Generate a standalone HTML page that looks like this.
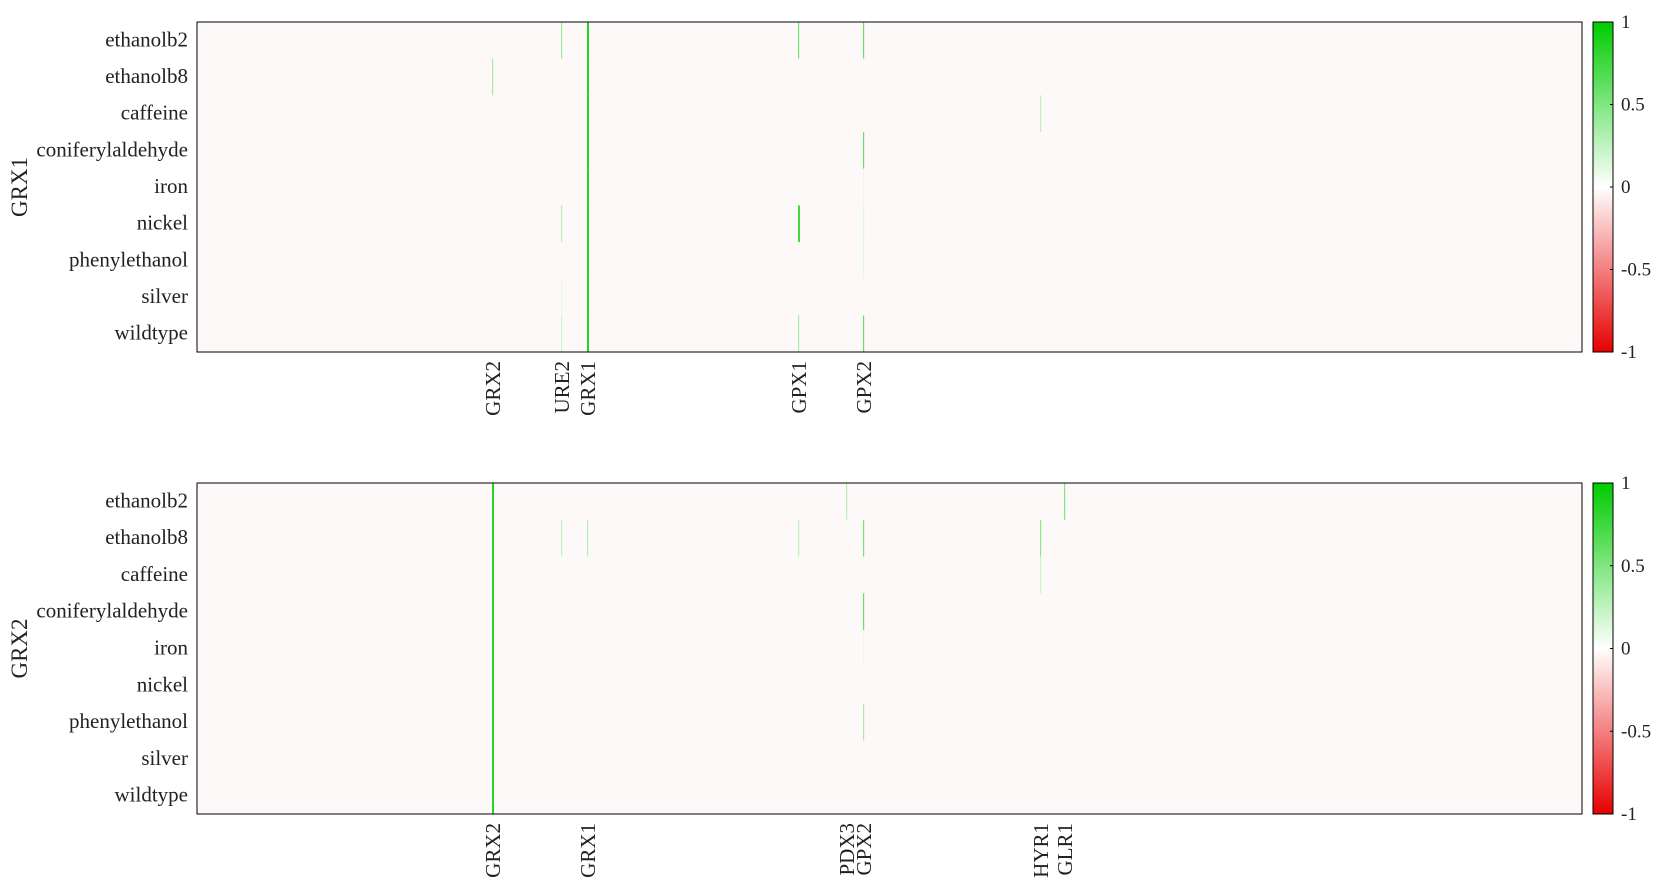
<!DOCTYPE html>
<html><head><meta charset="utf-8"><style>
html,body{margin:0;padding:0;background:#fff;}
svg{display:block;}
text{font-family:"Liberation Serif","Times New Roman",serif;}
</style></head><body>
<svg id="chart" width="1662" height="886" xmlns="http://www.w3.org/2000/svg"></svg>
<script>
const conditions = ["ethanolb2","ethanolb8","caffeine","coniferylaldehyde","iron","nickel","phenylethanol","silver","wildtype"];
const geneCount = 1385;
const panelTitles = ["GRX1","GRX2"];
// panel 1 highlighted cells: [geneIndex, conditionIndex, value]
const p1Cells = [
 [390,0,0.85],[390,1,0.85],[390,2,0.85],[390,3,0.85],[390,4,0.85],[390,5,0.85],[390,6,0.85],[390,7,0.85],[390,8,0.85],
 [364,0,0.4],[364,5,0.3],[364,7,0.1],[364,8,0.2],
 [295,1,0.35],
 [601,0,0.55],[601,5,0.75],[601,8,0.35],
 [666,0,0.6],[666,3,0.6],[666,4,0.08],[666,5,0.15],[666,6,0.12],[666,8,0.6],
 [843,2,0.25]
];
const p1Labels = [[295,"GRX2"],[364,"URE2"],[390,"GRX1"],[601,"GPX1"],[666,"GPX2"]];
const p2Cells = [
 [295,0,0.85],[295,1,0.85],[295,2,0.85],[295,3,0.85],[295,4,0.85],[295,5,0.85],[295,6,0.85],[295,7,0.85],[295,8,0.85],
 [649,0,0.3],[867,0,0.5],
 [364,1,0.25],[390,1,0.3],[601,1,0.25],[666,1,0.55],[843,1,0.45],[843,2,0.2],
 [666,3,0.6],[666,4,0.08],[666,6,0.35]
];
const p2Labels = [[295,"GRX2"],[390,"GRX1"],[649,"PDX3"],[666,"GPX2"],[843,"HYR1"],[867,"GLR1"]];
const cbTicks = [1,0.5,0,-0.5,-1];

const NS="http://www.w3.org/2000/svg";
const svg=document.getElementById('chart');
function mk(tag,attrs,parent){const e=document.createElementNS(NS,tag);for(const k in attrs)e.setAttribute(k,attrs[k]);(parent||svg).appendChild(e);return e;}
function color(v){
  v=Math.max(-1,Math.min(1,v));
  let r,g,b;
  if(v>=0){r=255*(1-v);g=255-(255-204)*v;b=255*(1-v);}
  else{const t=-v;r=255-(255-230)*t;g=255*(1-t);b=255*(1-t);}
  return `rgb(${Math.round(r)},${Math.round(g)},${Math.round(b)})`;
}
const X0=197,X1=1582;
const xs=i=>X0+i*(X1-X0)/geneCount;
const cw=(X1-X0)/geneCount;
const FF='"Liberation Serif", serif';

function panel(k,top,bottom,cells,labels){
  const ys=r=>top+r*(bottom-top)/conditions.length;
  const rh=(bottom-top)/conditions.length;
  const g=mk('g',{});
  
  
  const bg=mk('rect',{x:X0,y:top,width:X1-X0,height:bottom-top,fill:'#fdf9f8'},g);
  
  
  cells.forEach(c=>{
    const r=mk('rect',{x:xs(c[0]),y:ys(c[1]),width:Math.max(cw*(c[2]>0.7?2:1.2),1.2),height:rh,fill:color(c[2])},g);
    
    
  });
  const fr=mk('rect',{x:X0,y:top,width:X1-X0,height:bottom-top,fill:'none',stroke:'#000','stroke-width':1},g);
  
  
  conditions.forEach((c,i)=>{
    const t=mk('text',{x:188,y:ys(i)+rh/2+6,'text-anchor':'end','font-size':21,'font-family':FF,fill:'#222'},g);
    t.textContent=c;
    
    
  });
  const yt=mk('text',{x:0,y:0,'text-anchor':'middle','font-size':23,'font-family':FF,fill:'#222',transform:`translate(27,${(top+bottom)/2}) rotate(-90)`},g);
  yt.textContent=panelTitles[k];
  
  
  labels.forEach(l=>{
    const x=xs(l[0])+1;
    const t=mk('text',{x:0,y:0,'text-anchor':'end','font-size':21,'font-family':FF,fill:'#222',transform:`translate(${x+7},${bottom+9}) rotate(-90)`},g);
    t.textContent=l[1];
    
    
  });
  const id='cb'+k;
  const defs=mk('defs',{},g);
  const lg=mk('linearGradient',{id:id,x1:0,y1:1,x2:0,y2:0},defs);
  for(let i=0;i<=20;i++){const v=-1+i*0.1;mk('stop',{offset:(i/20),'stop-color':color(v)},lg);}
  const cb=mk('rect',{x:1593,y:top,width:20,height:bottom-top,fill:`url(#${id})`,stroke:'#000','stroke-width':1},g);
  
  
  const cy=v=>top+(1-v)/2*(bottom-top);
  cbTicks.forEach(v=>{
    mk('line',{x1:1610,x2:1613,y1:cy(v),y2:cy(v),stroke:'#000'},g);
    const t=mk('text',{x:1621,y:cy(v)+6,'font-size':19,'font-family':FF,fill:'#222'},g);
    t.textContent=String(v);
    
    
  });
}
panel(0,22,352,p1Cells,p1Labels);
panel(1,483,814,p2Cells,p2Labels);
</script>
</body></html>
